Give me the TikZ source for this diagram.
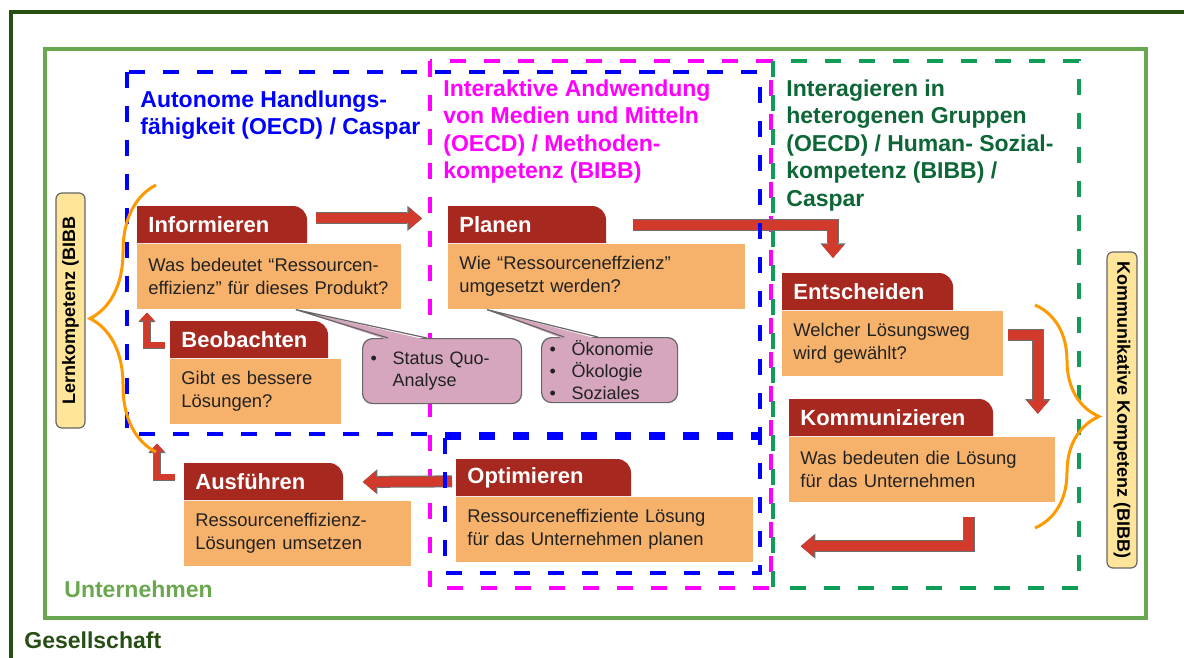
\documentclass[tikz,border=0pt]{standalone}
\usepackage{fontspec}
\setmainfont{Liberation Sans}
\usetikzlibrary{arrows.meta,decorations.pathreplacing}
\definecolor{tabred}{HTML}{A6281F}
\definecolor{bodyorange}{HTML}{F6B26B}
\definecolor{textdark}{HTML}{222222}
\definecolor{arrowred}{HTML}{D23A2C}
\definecolor{arrowedge}{HTML}{6E6E6E}
\definecolor{calloutpink}{HTML}{D5A6BD}
\definecolor{noteedge}{HTML}{666666}
\definecolor{labelyellow}{HTML}{FFE599}
\definecolor{braceorange}{HTML}{FF9900}
\definecolor{firmgreen}{HTML}{6AA84F}
\definecolor{societygreen}{HTML}{274E13}
\definecolor{groupgreen}{HTML}{0F9D58}
\definecolor{grouptext}{HTML}{0D6636}
\definecolor{autoblue}{HTML}{0000FF}
\definecolor{mediapink}{HTML}{FF00FF}
\newcommand\notebullet{\makebox[11pt][l]{\textbullet}}
% one phase: name, x, y, tab width, body width, title, question
\newcommand\phasebox[7]{%
  \pgfmathsetmacro\phasetabw{#4/2-11}%
  \pgfmathsetmacro\phasebodyw{#5/2-11}%
  \fill[tabred] (#2,#3+37) -- (#2,#3) -- ([xshift=-7pt]#2+#4,#3)
    arc[start angle=90,end angle=0,radius=7pt] -- (#2+#4,#3+37) -- cycle;
  \node[tabtext,text width=\phasetabw pt] (#1) at (#2,#3) {#6};
  \node[stepbody,text width=\phasebodyw pt] (#1b) at (#1.south west) {#7};
}
\tikzset{
  tabtext/.style={anchor=north west, text=white, inner xsep=5.5pt, inner ysep=0pt,
    minimum height=18.5pt, align=left, font=\bfseries\fontsize{11}{13}\selectfont},
  stepbody/.style={anchor=north west, fill=bodyorange, text=textdark, inner xsep=5.5pt,
    inner ysep=0pt, minimum height=32.5pt, align=left, font=\fontsize{9.2}{11.5}\selectfont},
  flow/.style={draw=arrowred, line width=5pt,
    -{Triangle[length=6.5pt,width=11pt,line width=0pt]},
    preaction={draw=arrowedge, line width=6pt,
      -{Triangle[length=7.3pt,width=12.6pt,line width=0pt]}}},
  smallflow/.style={draw=arrowred, line width=3pt,
    -{Triangle[length=4pt,width=7.5pt,line width=0pt]},
    preaction={draw=arrowedge, line width=3.8pt,
      -{Triangle[length=4.7pt,width=8.7pt,line width=0pt]}}},
  zone/.style={line width=2pt, dash pattern=on 8pt off 9pt},
  notebox/.style={anchor=north west, fill=calloutpink, draw=noteedge, line width=0.6pt,
    rounded corners=5pt, inner xsep=4pt, inner ysep=0pt, minimum height=32.5pt,
    align=left, text=textdark, font=\fontsize{9}{11}\selectfont},
  sidelabel/.style={fill=labelyellow, draw=noteedge, line width=0.6pt, rounded corners=3pt,
    inner sep=0pt, font=\bfseries\fontsize{9}{11}\selectfont},
  heading/.style={anchor=north west, inner sep=0pt, align=left,
    font=\bfseries\fontsize{11.5}{13.8}\selectfont},
  curly/.style={draw=braceorange, line width=1.5pt, decorate,
    decoration={brace, amplitude=#1}}
}

\begin{document}
\begin{tikzpicture}[x=0.5pt,y=-0.5pt]
\useasboundingbox (0,0) rectangle (1184,658);
% frames
\draw[societygreen, line width=2pt] (1184,12) -- (11,12) -- (11,658);
\draw[firmgreen, line width=2pt] (45,49) rectangle (1146,618);
\node[heading, anchor=west, text=societygreen] (society) at (24,640) {Gesellschaft};
\node[heading, anchor=west, text=firmgreen] (firm) at (64,589) {Unternehmen};
\draw[zone, mediapink] (430,61) rectangle (771,588);

% phases
\phasebox{inf}{137}{206}{170}{264}{Informieren}{Was bedeutet “Ressourcen-\\effizienz” für dieses Produkt?}
\phasebox{pla}{448}{206}{158}{297}{Planen}{Wie “Ressourceneffzienz”\\umgesetzt werden?}
\phasebox{ent}{782}{273}{171}{221}{Entscheiden}{Welcher Lösungsweg\\wird gewählt?}
\phasebox{kom}{789}{399}{204}{266}{Kommunizieren}{Was bedeuten die Lösung\\für das Unternehmen}
\phasebox{beo}{170}{321}{158}{171}{Beobachten}{Gibt es bessere\\Lösungen?}
\phasebox{aus}{184}{463}{159}{227}{Ausführen}{Ressourceneffizienz-\\Lösungen umsetzen}
\phasebox{opt}{456}{459}{175}{297}{Optimieren}{Ressourceneffiziente Lösung\\für das Unternehmen planen}

% cycle
\draw[flow] ([shift={(8,-6.5)}]inf.east) -- ([shift={(-26,-6.5)}]pla.west);
\draw[flow] ([shift={(26,0)}]pla.east) -| ([shift={(51,-15)}]ent.north west);
\draw[flow] ([shift={(4,-9)}]entb.east) -| ([shift={(-18,-23)}]komb.north east);
\draw[flow] ([shift={(-87,14)}]komb.south east) |- ([shift={(47,16.5)}]optb.east);
\draw[flow] ([shift={(-4,3.5)}]opt.west) -- ([shift={(19,0)}]aus.east);
\draw[smallflow] ([shift={(-9,-4.5)}]aus.west) -| ([shift={(-13,19)}]beob.south west);
\draw[smallflow] ([shift={(-5,5.5)}]beo.west) -| ([shift={(10,3)}]infb.south west);

% competence zones
\draw[zone, autoblue] (127,72) rectangle (760,434);
\draw[zone, autoblue] (445,438) rectangle (760,573);
\draw[zone, groupgreen] (773,61) rectangle (1079,588);
\node[heading, text=autoblue] (auto) at (140,90) {Autonome Handlungs-\\fähigkeit (OECD) / Caspar};
\node[heading, text=mediapink] (media) at (443,79) {Interaktive Andwendung\\von Medien und Mitteln\\(OECD) / Methoden-\\kompetenz (BIBB)};
\node[heading, text=grouptext] (group) at (786,79) {Interagieren in\\heterogenen Gruppen\\(OECD) / Human- Sozial-\\kompetenz (BIBB) /\\Caspar};

% braces and side labels
\draw[curly=33pt] (156,452) -- (156,185);
\draw[curly=32pt] (1035,305) -- (1035,528);
\node[sidelabel, rotate=90, minimum width=117.5pt, minimum height=14.5pt] (lern) at (70.5,310.5) {Lernkompetenz (BIBB};
\node[sidelabel, rotate=-90, minimum width=158pt, minimum height=15pt] (komm) at (1122,410) {Kommunikative Kompetenz (BIBB)};

% notes
\node[notebox, text width=71.5pt] (sq) at (362,338) {\notebullet Status Quo-\\\hspace*{11pt}Analyse};
\fill[calloutpink] ([shift={(26,2)}]sq.north west) -- ([shift={(-106,0)}]infb.south east) -- ([shift={(65,2)}]sq.north west) -- cycle;
\draw[noteedge, line width=0.6pt] ([shift={(26,0)}]sq.north west) -- ([shift={(-106,0)}]infb.south east) -- ([shift={(65,0)}]sq.north west);
\node[notebox, text width=60pt] (eco) at (541,337) {\notebullet Ökonomie\\\notebullet Ökologie\\\notebullet Soziales};
\fill[calloutpink] ([shift={(23,2)}]eco.north west) -- ([shift={(39,0)}]plab.south west) -- ([shift={(57,2)}]eco.north west) -- cycle;
\draw[noteedge, line width=0.6pt] ([shift={(23,0)}]eco.north west) -- ([shift={(39,0)}]plab.south west) -- ([shift={(57,0)}]eco.north west);
\end{tikzpicture}
\end{document}
